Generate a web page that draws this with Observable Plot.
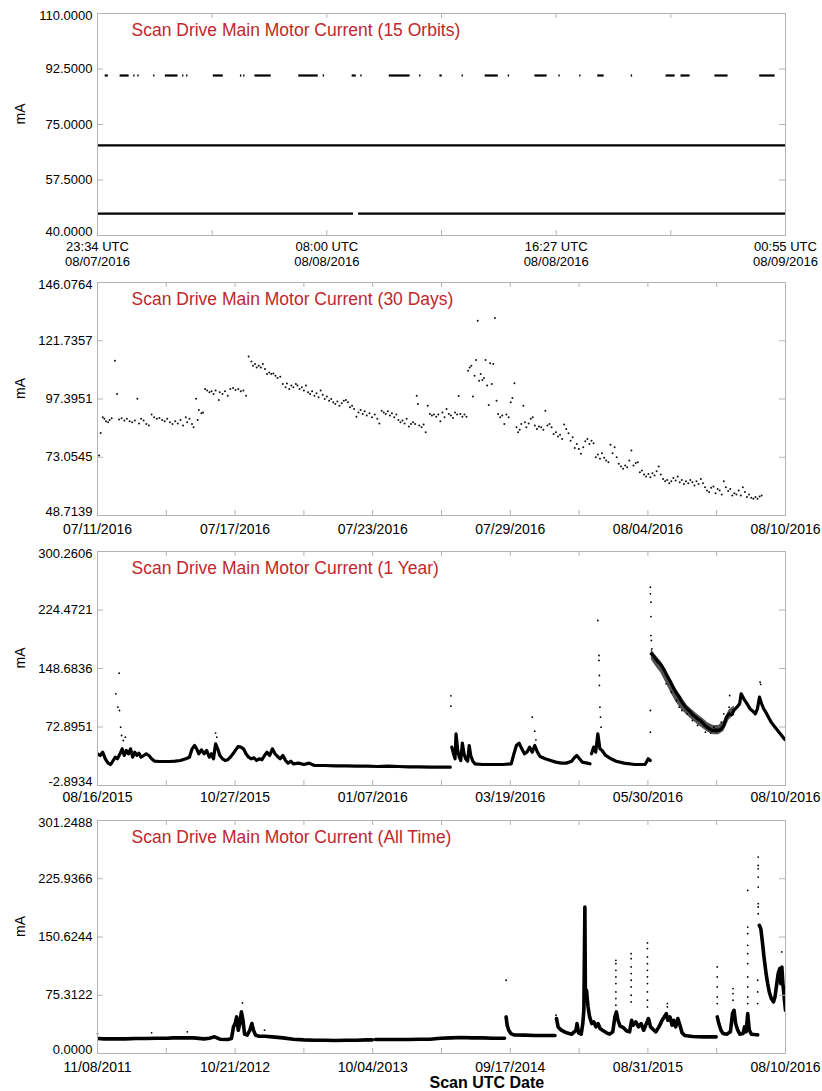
<!DOCTYPE html>
<html>
<head>
<meta charset="utf-8">
<script src="https://cdn.jsdelivr.net/npm/d3@7"></script>
<script src="https://cdn.jsdelivr.net/npm/@observablehq/plot@0.6"></script>
<style>
  html, body { margin: 0; padding: 0; background: #fff; }
  #wrap { position: relative; width: 822px; height: 1091px; overflow: hidden; background: #fff;
          font-family: "Liberation Sans", Arial, Helvetica, sans-serif; color: #000; }
  .panel { position: absolute; left: 0; }
  #dtitle { position: absolute; top: -11px; left: 2px; width: 822px; text-align: center;
            font-size: 16px; line-height: 16px; white-space: nowrap; }
  #side { position: absolute; left: 807px; top: 186px; transform-origin: left top; transform: rotate(-90deg);
          font-size: 18px; line-height: 18px; white-space: nowrap; }
</style>
</head>
<body>
<div id="wrap">
  <div id="dtitle">Daily Status on 08/09/2016</div>
  <div id="side">NOAA/NESDIS/STAR</div>
</div>
<script>
// ---------------- DATA ----------------
const DAY = 864e5, MIN = 6e4;

// Panel 1: 15 orbits (minutes after 08/07/2016 23:34 UTC)
const orbitStart = Date.UTC(2016, 7, 7, 23, 34);
const orbitEnd = Date.UTC(2016, 7, 9, 0, 55);
const orbitTickLabels = ["23:34 UTC\n08/07/2016", "08:00 UTC\n08/08/2016", "16:27 UTC\n08/08/2016", "00:55 UTC\n08/09/2016"];
const orbitYTicks = [40, 57.5, 75, 92.5, 110];
const highLevel = 90.45, midLevel = 68.4, lowLevel = 46.9;
const highRuns = [[17,24],[50,70],[80,83],[89,92],[124,127],[150,178],[188,191],[197,200],[256,278],[316,319],[323,326],[348,384],[445,488],[499,502],[563,572],[582,585],[645,691],[712,715],[757,762],[806,809],[857,886],[908,911],[967,994],[1020,1023],[1066,1069],[1106,1120],[1180,1183],[1257,1277],[1290,1310],[1365,1394],[1464,1498]];
const midRuns = [[0,1521]];
const lowRuns = [[0,566],[577,1521]];

// Panel 2: 30 days (days after 07/11/2016, mA)
const d30Start = Date.UTC(2016, 6, 11), d30End = Date.UTC(2016, 7, 10);
const d30TickLabels = ["07/11/2016", "07/17/2016", "07/23/2016", "07/29/2016", "08/04/2016", "08/10/2016"];
const d30YTicks = [48.7139, 73.0545, 97.3951, 121.7357, 146.0764];
const d30Points = [
[0.07,73.8],[0.14,83.2],[0.23,89.8],[0.30,89.1],[0.37,88.1],[0.46,87.7],[0.53,88.6],[0.62,89.3],[0.76,113.4],[0.85,99.5],
[0.94,88.8],[1.05,89.3],[1.17,88.4],[1.28,89.1],[1.40,88.1],[1.51,87.7],[1.63,88.4],[1.74,97.5],[1.81,87.2],[1.90,89.1],
[2.01,88.4],[2.13,87.0],[2.24,86.3],[2.36,90.9],[2.47,89.8],[2.59,89.1],[2.70,89.5],[2.82,88.6],[2.93,88.1],[3.04,89.1],
[3.16,87.7],[3.27,87.0],[3.39,88.1],[3.50,87.2],[3.62,88.6],[3.73,86.3],[3.85,89.8],[3.91,87.7],[4.01,89.1],[4.12,87.0],
[4.19,85.6],[4.30,97.5],[4.37,88.6],[4.42,92.8],[4.53,91.4],[4.60,91.8],[4.69,101.6],[4.78,100.9],[4.88,100.2],[4.97,100.6],
[5.06,99.5],[5.15,100.9],[5.29,97.0],[5.33,100.2],[5.45,99.5],[5.56,100.6],[5.68,98.8],[5.79,101.6],[5.91,102.0],[6.02,101.2],
[6.14,101.6],[6.25,100.6],[6.36,100.9],[6.48,98.8],[6.59,115.2],[6.71,113.1],[6.78,111.3],[6.87,112.0],[6.94,110.6],[7.03,111.3],
[7.12,110.6],[7.21,112.0],[7.30,109.9],[7.39,107.8],[7.49,108.5],[7.58,107.8],[7.67,108.1],[7.76,107.1],[7.85,106.2],[7.97,106.7],
[8.08,103.7],[8.20,102.3],[8.26,103.9],[8.36,101.6],[8.45,103.0],[8.54,102.3],[8.65,103.7],[8.72,103.0],[8.81,101.6],[8.91,102.3],
[9.00,100.9],[9.09,103.0],[9.18,100.2],[9.27,99.5],[9.36,100.6],[9.46,98.8],[9.55,99.8],[9.64,98.1],[9.73,100.9],[9.82,99.2],
[9.91,97.4],[10.00,98.4],[10.10,96.7],[10.19,97.4],[10.28,96.0],[10.37,95.3],[10.46,96.4],[10.55,94.6],[10.65,95.6],[10.74,96.7],
[10.83,97.0],[10.92,96.0],[11.01,93.9],[11.10,94.6],[11.19,93.2],[11.29,90.0],[11.38,91.8],[11.47,92.8],[11.56,91.1],[11.65,92.3],
[11.74,90.5],[11.86,91.4],[11.97,89.8],[12.09,90.9],[12.20,89.1],[12.29,87.2],[12.39,92.5],[12.48,91.8],[12.57,91.1],[12.66,92.3],
[12.75,90.5],[12.84,91.4],[12.94,89.8],[13.03,90.9],[13.12,88.6],[13.21,87.7],[13.30,88.4],[13.39,87.2],[13.48,89.1],[13.58,85.9],
[13.67,87.0],[13.76,87.7],[13.85,87.0],[13.92,98.8],[13.97,95.3],[14.03,86.3],[14.13,85.6],[14.22,86.7],[14.31,83.5],[14.40,94.6],
[14.49,91.1],[14.58,90.5],[14.67,90.9],[14.77,90.0],[14.86,90.9],[14.95,88.1],[15.04,91.8],[15.13,89.8],[15.22,93.2],[15.32,91.1],
[15.41,90.5],[15.50,89.5],[15.59,91.8],[15.68,90.9],[15.75,98.7],[15.82,91.1],[15.91,90.0],[16.00,90.9],[16.09,90.0],[16.16,109.2],
[16.23,110.6],[16.30,111.3],[16.37,98.4],[16.44,107.1],[16.51,113.7],[16.58,130.1],[16.64,105.0],[16.71,107.8],[16.78,105.3],[16.85,106.2],
[16.92,113.7],[16.99,103.0],[17.06,94.9],[17.12,112.3],[17.19,103.7],[17.26,112.0],[17.33,131.2],[17.40,96.7],[17.47,91.1],[17.56,89.8],
[17.65,90.5],[17.74,87.0],[17.83,90.9],[17.93,89.8],[18.02,96.0],[18.09,97.8],[18.18,104.0],[18.27,85.6],[18.34,83.5],[18.41,84.5],
[18.48,87.0],[18.57,94.6],[18.64,87.7],[18.70,85.6],[18.80,87.2],[18.89,89.1],[18.98,89.8],[19.07,86.3],[19.16,84.9],[19.25,85.9],
[19.35,85.6],[19.44,84.5],[19.53,92.5],[19.62,86.3],[19.71,87.0],[19.80,85.6],[19.89,82.8],[19.99,83.5],[20.08,81.7],[20.17,82.5],
[20.26,80.7],[20.35,86.7],[20.44,84.9],[20.54,83.1],[20.63,80.0],[20.72,81.4],[20.81,76.9],[20.90,78.6],[20.99,76.5],[21.08,74.5],
[21.18,77.2],[21.27,79.7],[21.36,80.7],[21.45,78.6],[21.54,80.0],[21.63,78.9],[21.73,73.1],[21.82,74.2],[21.91,72.4],[22.00,74.7],
[22.09,72.8],[22.18,71.7],[22.28,71.0],[22.37,78.3],[22.46,74.7],[22.55,77.2],[22.64,73.1],[22.73,70.3],[22.83,69.2],[22.92,68.2],
[23.01,69.6],[23.10,68.9],[23.19,71.7],[23.28,75.9],[23.37,69.6],[23.47,70.6],[23.56,71.0],[23.65,66.8],[23.74,67.5],[23.83,65.8],
[23.92,65.0],[24.02,66.1],[24.11,64.7],[24.20,66.4],[24.29,65.4],[24.38,67.2],[24.47,69.2],[24.56,65.8],[24.66,64.0],[24.75,63.0],
[24.84,63.6],[24.93,62.2],[25.02,63.0],[25.11,64.4],[25.21,63.3],[25.30,65.0],[25.39,62.6],[25.48,63.6],[25.57,61.9],[25.66,63.0],
[25.76,62.2],[25.85,63.6],[25.94,62.6],[26.03,61.2],[26.12,63.0],[26.21,61.9],[26.31,64.0],[26.40,62.2],[26.49,60.5],[26.58,59.2],
[26.67,58.5],[26.76,60.3],[26.86,60.8],[26.95,58.0],[27.04,59.8],[27.13,59.2],[27.22,57.5],[27.31,63.0],[27.40,60.5],[27.50,58.9],
[27.59,59.8],[27.68,57.1],[27.77,58.0],[27.86,57.5],[27.96,59.2],[28.05,57.1],[28.14,60.5],[28.23,58.5],[28.32,56.4],[28.41,57.5],
[28.51,56.1],[28.60,55.7],[28.69,56.4],[28.78,55.7],[28.87,56.7],[28.96,57.1]
];

// Panel 3: 1 year (days after 08/16/2015, mA); null marks a data gap
const yrStart = Date.UTC(2015, 7, 16), yrEnd = Date.UTC(2016, 7, 10);
const yrTickLabels = ["08/16/2015", "10/27/2015", "01/07/2016", "03/19/2016", "05/30/2016", "08/10/2016"];
const yrYTicks = [-2.8934, 72.8951, 148.6836, 224.4721, 300.2606];
const yrTrace = [
[0,38.2],[1.4,36.0],[2.7,40.3],[4.1,31.7],[5.5,26.1],[6.9,24.3],[8.2,29.5],[9.3,33.8],[10.4,31.7],[11.8,38.2],
[12.9,44.6],[14.0,36.0],[15.1,42.5],[16.2,38.2],[17.3,44.6],[18.4,33.8],[19.5,40.3],[20.6,36.0],[21.7,39.0],[22.8,33.8],
[24.2,36.0],[25.5,38.2],[26.9,36.0],[28.3,31.7],[29.9,28.6],[32.4,28.2],[35.2,28.2],[37.9,28.2],[40.7,28.6],[43.4,29.5],
[46.2,31.7],[48.1,33.8],[49.5,44.6],[50.8,48.9],[51.9,44.6],[53.0,38.2],[54.4,43.3],[55.8,38.2],[57.1,42.5],[58.5,33.8],
[59.6,38.2],[60.7,31.7],[61.8,51.1],[62.9,44.6],[64.0,36.0],[65.4,31.7],[66.8,29.5],[68.1,30.4],[69.5,33.8],[70.9,38.2],
[72.3,43.3],[73.6,47.7],[75.0,46.8],[76.4,44.6],[77.7,38.2],[79.1,33.8],[80.5,31.7],[81.9,33.0],[83.2,29.5],[84.6,31.7],
[86.0,30.4],[87.4,36.0],[88.7,40.3],[90.1,36.0],[91.5,44.6],[92.9,38.2],[94.2,34.7],[95.6,31.7],[97.0,36.0],[98.4,29.5],
[99.7,26.1],[101.1,28.6],[102.5,25.2],[105.2,26.1],[108.0,24.3],[110.7,26.1],[113.5,23.0],[119.0,23.0],[124.5,22.6],[129.9,22.6],
[135.4,22.2],[140.9,22.2],[146.4,21.7],[151.9,22.2],[157.4,21.7],[162.9,21.3],[168.4,21.3],[173.9,20.9],[179.4,20.9],[184.6,20.9],
[185.0,null],
[185.4,46.8],[186.3,38.2],[187.1,31.7],[187.6,64.1],[188.5,42.5],[189.3,33.8],[190.1,29.5],[190.9,52.0],[191.8,38.2],[192.6,31.7],
[193.7,28.6],[194.5,48.9],[195.3,36.0],[196.4,28.6],[197.5,25.2],[201.4,24.3],[206.9,24.3],[212.4,24.3],[216.5,25.2],[217.9,38.2],
[219.2,48.9],[220.6,52.0],[222.0,44.6],[223.4,38.2],[224.7,40.3],[226.1,46.8],[227.5,40.3],[228.8,48.9],[230.2,40.3],[231.6,34.7],
[234.3,31.7],[237.1,29.5],[239.8,27.4],[242.6,26.1],[245.3,26.1],[248.1,28.6],[249.5,33.0],[250.8,36.0],[252.2,31.7],[253.6,27.4],
[256.3,26.1],[257.7,25.2],
[258.1,null],
[258.5,38.2],[259.6,46.8],[260.7,40.3],[261.8,64.1],[262.9,44.6],[264.0,42.5],[265.9,36.0],[268.7,31.7],[271.4,28.6],[275.5,26.1],
[281.0,24.3],[286.5,24.3],[288.2,31.7],[289.2,29.5],
[289.5,null],
[289.8,167.7],[290.9,165.5],[292.0,161.2],[293.4,156.9],[294.8,153.9],[296.2,148.3],[297.5,141.8],[298.9,135.3],[300.3,128.8],[301.6,122.4],
[303.0,116.7],[304.4,111.6],[305.8,105.1],[307.1,100.8],[308.5,96.4],[309.9,93.4],[311.3,89.1],[312.6,86.5],[314.0,83.5],[315.4,81.3],
[316.8,77.9],[318.1,74.4],[319.5,71.8],[320.9,69.2],[322.3,68.4],[323.6,69.2],[325.0,68.4],[326.4,70.5],[327.7,74.9],[329.1,85.6],
[330.5,90.0],[331.9,89.1],[333.2,95.2],[334.6,98.6],[336.0,103.0],[336.8,115.9],[338.2,109.4],[339.3,105.1],[340.4,100.8],[341.5,96.4],
[342.9,93.4],[344.2,90.0],[345.3,96.4],[346.4,111.6],[347.5,103.0],[348.6,96.4],[349.7,92.1],[351.1,85.6],[352.5,79.2],[353.8,74.9],
[355.2,70.5],[356.6,66.2],[358.0,61.9],[359.3,57.6],[359.9,56.3]
];
// noisy spread of the 1-year trace after the 05/30/2016 jump: [day, low, high]
const yrSpread = [
[289.8,160,174],[292.0,152,166],[294.8,143,158],[297.5,130,146],[300.3,116,134],[303.0,104,121],[305.8,95,111],[308.5,88,101],
[311.3,82,95],[314.0,76,89],[316.8,71,84],[319.5,66,78],[322.3,63,75],[325.0,63,75],[327.7,67,80],[330.5,82,95],[333.2,88,100]
];
const yrScatter = [
[9.6,115.9],[11.3,142.6],[10.7,98.6],[11.5,94.3],[12.1,72.7],[12.6,61.9],[13.5,55.4],[14.6,59.7],[61.8,65.0],[62.4,59.7],
[184.9,113.3],[184.9,99.9],[227.5,85.6],[228.8,67.5],[229.4,56.3],
[261.8,210.9],[262.4,165.5],[262.4,159.1],[262.6,139.6],[262.6,126.7],[262.9,98.6],[263.2,85.6],[263.5,72.7],
[289.3,254.1],[289.3,245.4],[289.6,234.6],[289.6,216.0],[289.6,191.4],[289.8,185.0],[290.1,174.2],[289.3,94.3],[289.3,66.2],
[330.8,113.7],[346.7,131.0],[347.0,128.0],
[297.5,128.8],[300.3,118.0],[303.0,107.2],[304.4,98.6],[305.8,94.3],[308.5,90.0],[311.3,81.3],[314.0,74.9],[318.1,66.2],[320.9,65.0],
[323.6,66.2],[326.4,79.2],[327.7,90.0],[330.5,98.6],[332.4,89.1],[322.5,72.7],[325.3,67.5]
];

// Panel 4: all time (days after 11/08/2011, mA); null marks a data gap
const allStart = Date.UTC(2011, 10, 8), allEnd = Date.UTC(2016, 7, 10);
const allTickLabels = ["11/08/2011", "10/21/2012", "10/04/2013", "09/17/2014", "08/31/2015", "08/10/2016"];
const allYTicks = [0, 75.3122, 150.6244, 225.9366, 301.2488];
const allTrace = [
[0,19.4],[17.2,18.9],[43.8,18.9],[70.3,18.9],[96.8,19.4],[123.3,19.4],[149.8,19.8],[176.4,19.8],[189.6,20.2],[216.1,20.2],
[242.7,20.2],[269.2,18.9],[282.4,19.8],[295.7,21.5],[309.0,18.5],[328.8,18.1],[338.1,19.4],[343.4,34.4],[347.4,38.7],[351.4,47.3],
[355.4,30.1],[359.3,38.7],[363.3,53.8],[367.3,43.0],[371.3,25.0],[377.9,23.7],[384.5,30.1],[389.8,38.7],[393.8,30.1],[399.1,23.7],
[408.4,22.4],[421.7,22.4],[441.6,21.5],[468.1,20.2],[494.6,18.5],[521.1,17.6],[547.6,17.2],[574.2,17.2],[600.7,16.8],[627.2,17.2],
[653.7,17.2],[680.2,17.6],[693.5,17.6],
[697,null],
[701.5,18.1],[733.3,18.1],[759.8,18.1],[786.3,18.1],[812.8,18.5],[839.4,18.5],[865.9,19.8],[892.4,20.2],[918.9,20.7],[945.4,20.2],
[972.0,20.2],[998.5,19.8],[1027.6,19.8],
[1029.5,null],
[1031.6,47.3],[1034.3,36.6],[1038.3,30.1],[1043.6,25.8],[1051.5,24.1],[1078.0,23.7],[1104.6,23.2],[1131.1,23.2],[1155.0,23.2],
[1157,null],
[1158.9,45.2],[1162.9,34.4],[1170.9,30.1],[1184.1,26.7],[1197.4,25.0],[1208.0,30.1],[1210.6,38.7],[1214.6,26.7],[1221.2,25.0],[1225.2,38.7],
[1227.9,55.9],[1230.5,189.4],[1231.8,73.2],[1234.5,81.8],[1238.5,60.2],[1242.5,47.3],[1247.8,38.7],[1253.1,40.9],[1258.4,34.4],[1263.7,38.7],
[1269.0,32.3],[1277.0,29.3],[1285.0,26.7],[1292.9,25.0],[1300.9,28.0],[1306.2,47.3],[1310.1,53.8],[1314.1,43.0],[1319.4,35.3],[1327.4,33.6],
[1335.3,29.3],[1343.3,28.0],[1348.6,43.0],[1352.6,36.6],[1359.2,40.9],[1365.8,34.4],[1372.5,38.7],[1379.1,30.1],[1385.7,38.7],[1391.0,45.2],
[1396.3,34.4],[1403.0,31.0],[1409.6,28.0],[1417.5,34.4],[1425.5,43.0],[1430.8,47.3],[1436.1,51.6],[1440.1,43.0],[1445.3,47.3],[1450.6,36.6],
[1454.6,43.0],[1459.9,34.4],[1465.2,45.2],[1470.5,36.6],[1475.8,26.7],[1482.5,23.2],[1502.4,21.9],[1528.9,21.5],[1562.0,21.5],
[1563.3,null],
[1564.7,47.3],[1568.7,38.7],[1574.0,30.1],[1579.3,25.8],[1588.6,25.0],[1597.9,28.0],[1603.2,51.6],[1607.1,55.9],[1611.1,38.7],[1616.4,30.1],
[1621.7,25.0],[1629.7,25.8],[1633.7,34.4],[1637.6,28.0],[1641.6,51.6],[1645.6,30.1],[1650.9,25.0],[1658.9,24.5],[1666.8,24.1],
[1668.8,null],
[1670.8,165.7],[1674.7,161.4],[1678.7,144.2],[1682.7,124.8],[1688.0,103.3],[1692.0,90.4],[1696.0,79.6],[1701.3,71.0],[1706.6,66.7],[1710.5,73.2],
[1714.5,88.2],[1718.5,103.3],[1722.5,109.7],[1725.1,90.4],[1727.8,111.9],[1730.4,90.4],[1734.4,68.9],[1737.0,55.9]
];
const allScatter = [
[0,25.8],[136.6,26.7],[226.7,28.0],[366.0,65.4],[421.7,30.1],[1031.6,94.7],[1157.6,49.5],[1210.6,39.5],
[1229.9,150.6],[1230.2,120.5],[1230.8,100.0],[1231.2,85.0],
[1308.8,120.5],[1308.8,116.2],[1308.8,107.6],[1308.8,99.0],[1308.8,90.4],[1308.8,79.6],[1308.8,71.0],[1308.8,62.4],
[1347.3,129.1],[1347.3,122.6],[1347.3,111.9],[1347.3,103.3],[1347.3,94.7],[1347.3,86.1],[1347.3,75.3],[1347.3,66.7],
[1388.4,142.9],[1388.4,135.6],[1388.4,124.8],[1388.4,116.2],[1388.4,107.6],[1388.4,99.0],[1388.4,90.4],[1388.4,79.6],[1388.4,68.9],[1388.4,60.2],
[1438.8,64.6],[1438.8,60.2],
[1564.7,111.9],[1564.7,99.0],[1564.7,86.1],[1564.7,73.2],[1564.7,64.6],
[1604.5,83.9],[1604.5,77.5],[1604.5,68.9],
[1641.6,210.9],[1641.6,163.5],[1641.6,154.9],[1641.6,139.9],[1641.6,129.1],[1641.6,116.2],[1641.6,99.0],[1641.6,86.1],[1641.6,73.2],[1641.6,64.6],
[1668.1,253.9],[1668.1,243.2],[1668.1,238.8],[1668.1,228.1],[1668.1,215.2],[1668.1,193.7],[1668.1,189.4],[1668.1,180.7],
[1666.8,94.7],[1666.8,79.6],[1666.8,64.6],[1727.8,131.3]
];

const panelTitles = [
  "Scan Drive Main Motor Current (15 Orbits)",
  "Scan Drive Main Motor Current (30 Days)",
  "Scan Drive Main Motor Current (1 Year)",
  "Scan Drive Main Motor Current (All Time)"
];

// ---------------- DRAWING ----------------
const FONT = '"Liberation Sans", Arial, Helvetica, sans-serif';
const RED = "#c0272d";
const FRAME = "#b4b4b4";
const W = 822, ML = 97, MR = 37;

function panel({top, height, mt, mb, x0, x1, nTicks, labels, yTicks, title, marks, labelDy,
                labelSize = 14, labelLine = 1, extra = []}) {
  const pw = W - ML - MR, ph = height - mt - mb;
  const minorTicks = d3.range(nTicks + 1).map(i => new Date(x0 + i * (x1 - x0) / nTicks));
  const step = nTicks / (labels.length - 1);
  const labelData = labels.map((s, i) => ({t: minorTicks[i * step], s}));
  const n = yTicks.length;
  const yLab = (data, dy) => Plot.text(data, {y: d => d, frameAnchor: "left", dx: -5, dy, textAnchor: "end",
    lineAnchor: "middle", text: d => d.toFixed(4), fontSize: 13, fill: "black"});
  const chart = Plot.plot({
    width: W, height,
    marginLeft: ML, marginRight: MR, marginTop: mt, marginBottom: mb,
    style: {fontFamily: FONT, fontSize: "13px", background: "white", color: "black", overflow: "visible"},
    x: {type: "utc", domain: [new Date(x0), new Date(x1)], axis: null},
    y: {domain: [yTicks[0], yTicks[n - 1]], axis: null},
    marks: [
      ...marks,
      Plot.frame({stroke: FRAME, strokeWidth: 1}),
      Plot.tickY(yTicks, {y: d => d, stroke: FRAME, insetRight: pw - 6}),
      Plot.tickY(yTicks, {y: d => d, stroke: FRAME, insetLeft: pw - 6}),
      Plot.tickX(minorTicks, {x: d => d, stroke: FRAME, insetTop: ph - 5}),
      Plot.tickX(minorTicks, {x: d => d, stroke: FRAME, insetBottom: ph - 5}),
      yLab(yTicks.slice(0, 1), -3.5),
      yLab(yTicks.slice(1, n - 1), 0),
      yLab(yTicks.slice(n - 1), 2.5),
      Plot.text(labelData, {x: "t", frameAnchor: "bottom", dy: labelDy, text: "s", lineAnchor: "middle",
        fontSize: labelSize, lineHeight: labelLine, fill: "black"}),
      Plot.text([title], {frameAnchor: "top-left", dx: 34, dy: 17, textAnchor: "start", lineAnchor: "middle",
        text: d => d, fill: RED, fontSize: 17.5}),
      Plot.text(["mA"], {frameAnchor: "left", dx: -77, rotate: -90, lineAnchor: "middle", text: d => d, fontSize: 14, fill: "black"}),
      ...extra
    ]
  });
  chart.classList.add("panel");
  chart.style.top = top + "px";
  chart.style.position = "absolute";
  document.getElementById("wrap").appendChild(chart);
}

// Panel 1
const toOrbit = m => new Date(orbitStart + m * MIN);
const runs = (arr, v) => arr.map(([a, b]) => ({t1: toOrbit(a), t2: toOrbit(b), v}));
panel({
  top: 0, height: 270, mt: 13, mb: 35,
  x0: orbitStart, x1: orbitEnd, nTicks: 6, labels: orbitTickLabels, yTicks: orbitYTicks,
  title: panelTitles[0], labelDy: 18, labelSize: 13, labelLine: 1.17,
  marks: [
    Plot.ruleY(runs(highRuns, highLevel), {x1: "t1", x2: "t2", y: "v", stroke: "black", strokeWidth: 2.2}),
    Plot.ruleY(runs(midRuns, midLevel), {x1: "t1", x2: "t2", y: "v", stroke: "black", strokeWidth: 2.2}),
    Plot.ruleY(runs(lowRuns, lowLevel), {x1: "t1", x2: "t2", y: "v", stroke: "black", strokeWidth: 2.2})
  ]
});

// Panel 2
const pts30 = d30Points.map(([d, v]) => ({t: new Date(d30Start + d * DAY), v}));
panel({
  top: 270, height: 270, mt: 12, mb: 25,
  x0: d30Start, x1: d30End, nTicks: 10, labels: d30TickLabels, yTicks: d30YTicks,
  title: panelTitles[1], labelDy: 14,
  marks: [
    Plot.dot(pts30, {x: "t", y: "v", r: 1, fill: "#111", stroke: null})
  ]
});

// Panel 3
const toYr = d => new Date(yrStart + d * DAY);
const yrLine = yrTrace.map(([d, v]) => ({t: toYr(d), v}));
const yrBand = yrSpread.map(([d, lo, hi]) => ({t: toYr(d), lo, hi}));
const yrDots = yrScatter.map(([d, v]) => ({t: toYr(d), v}));
panel({
  top: 540, height: 270, mt: 11, mb: 25,
  x0: yrStart, x1: yrEnd, nTicks: 10, labels: yrTickLabels, yTicks: yrYTicks,
  title: panelTitles[2], labelDy: 12,
  marks: [
    Plot.areaY(yrBand, {x: "t", y1: "lo", y2: "hi", fill: "#333", fillOpacity: 0.85}),
    Plot.line(yrLine, {x: "t", y: "v", stroke: "black", strokeWidth: 3.2, strokeLinejoin: "round", clip: true}),
    Plot.dot(yrDots, {x: "t", y: "v", r: 0.9, fill: "black", stroke: null})
  ]
});

// Panel 4
const toAll = d => new Date(allStart + d * DAY);
const allLine = allTrace.map(([d, v]) => ({t: toAll(d), v}));
const allDots = allScatter.map(([d, v]) => ({t: toAll(d), v}));
panel({
  top: 810, height: 281, mt: 10, mb: 38,
  x0: allStart, x1: allEnd, nTicks: 10, labels: allTickLabels, yTicks: allYTicks,
  title: panelTitles[3], labelDy: 14,
  marks: [
    Plot.line(allLine, {x: "t", y: "v", stroke: "black", strokeWidth: 3.6, strokeLinejoin: "round", clip: true}),
    Plot.dot(allDots, {x: "t", y: "v", r: 0.9, fill: "black", stroke: null})
  ],
  extra: [
    Plot.text(["Scan UTC Date"], {frameAnchor: "bottom-left", dx: 332, dy: 29, lineAnchor: "middle", text: d => d,
      fontSize: 16, fontWeight: "bold", fill: "black"})
  ]
});
</script>
</body>
</html>
